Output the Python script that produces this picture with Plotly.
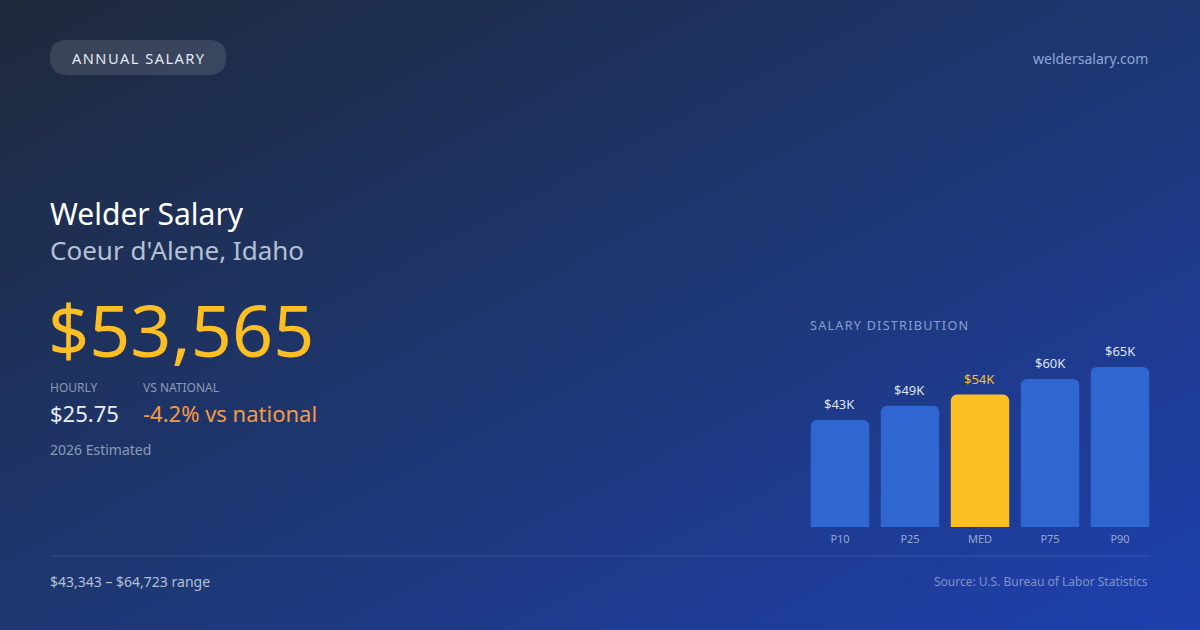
import plotly.graph_objects as go

# salary percentiles
percentiles = ["P10", "P25", "MED", "P75", "P90"]
salaries = [43343, 49100, 53565, 59900, 64723]
bar_labels = ["$43K", "$49K", "$54K", "$60K", "$65K"]
highlight = "MED"

occupation = "Welder Salary"
location = "Coeur d'Alene, Idaho"
median_salary = "$53,565"
hourly_wage = "$25.75"
vs_national = "-4.2% vs national"
year_note = "2026 Estimated"
range_note = "$43,343 \u2013 $64,723 range"
source_note = "Source: U.S. Bureau of Labor Statistics"
site = "weldersalary.com"

W, H = 1200, 630
FONT = "Noto Sans"
BLUE_BAR = "#3066d0"
GOLD = "#fbbf24"


def spaced(s):
    # rough letter-spacing
    return "\u200a".join(s)


def px(x, y):
    return x / W, 1 - y / H


def round_rect(x0, y0, x1, y1, r):
    # pixel box -> paper path with rounded corners
    rx, ry = r / W, r / H
    X0, X1 = x0 / W, x1 / W
    Y0, Y1 = 1 - y1 / H, 1 - y0 / H
    return (f"M {X0 + rx},{Y0} L {X1 - rx},{Y0} Q {X1},{Y0} {X1},{Y0 + ry} "
            f"L {X1},{Y1 - ry} Q {X1},{Y1} {X1 - rx},{Y1} "
            f"L {X0 + rx},{Y1} Q {X0},{Y1} {X0},{Y1 - ry} "
            f"L {X0},{Y0 + ry} Q {X0},{Y0} {X0 + rx},{Y0} Z")


fig = go.Figure()

# background gradient (diagonal)
fig.add_trace(go.Heatmap(
    z=[[0, 0.5], [0.5, 1]], x=[0, 1], y=[1, 0],
    colorscale=[[0, "#1e293b"], [0.5, "#1e3772"], [1, "#1e40af"]],
    zsmooth="best", showscale=False, hoverinfo="skip",
    xaxis="x", yaxis="y",
))

colors = [GOLD if p == highlight else BLUE_BAR for p in percentiles]
fig.add_trace(go.Bar(
    x=percentiles, y=salaries, marker=dict(color=colors, line=dict(width=0)),
    xaxis="x2", yaxis="y2", hoverinfo="skip",
))

fig.update_layout(
    width=W, height=H,
    margin=dict(l=0, r=0, t=0, b=0),
    paper_bgcolor="#1e293b", plot_bgcolor="rgba(0,0,0,0)",
    showlegend=False,
    font=dict(family=FONT),
    barcornerradius=6,
    bargap=0.165,
    xaxis=dict(range=[0, 1], domain=[0, 1], visible=False, fixedrange=True),
    yaxis=dict(range=[0, 1], domain=[0, 1], visible=False, fixedrange=True),
    xaxis2=dict(domain=[805 / W, 1155 / W], anchor="y2", showgrid=False, zeroline=False,
                showline=False, ticks="", tickfont=dict(size=11, color="#94a8cf", family=FONT),
                ticklabelstandoff=4),
    yaxis2=dict(domain=[(H - 527) / H, (H - 527 + 173) / H], range=[0, 70000], anchor="x2",
                visible=False),
)

# value labels on bars
for p, v, lab in zip(percentiles, salaries, bar_labels):
    fig.add_annotation(
        x=p, y=v, xref="x2", yref="y2", text=lab, showarrow=False,
        yanchor="bottom", yshift=5,
        font=dict(size=13, color=GOLD if p == highlight else "#dde3ef", family=FONT),
    )

# badge
fig.add_shape(type="path", xref="paper", yref="paper",
              path=round_rect(50, 40, 226, 75, 17),
              fillcolor="rgba(255,255,255,0.12)", line=dict(width=0), layer="above")


def text(x, y, s, size, color, anchor="left"):
    ax, ay = px(x, y)
    fig.add_annotation(x=ax, y=ay, xref="paper", yref="paper", text=s, showarrow=False,
                       xanchor=anchor, yanchor="middle",
                       font=dict(size=size, color=color, family=FONT))


text(138, 58, spaced("ANNUAL SALARY"), 14.6, "#e2e8f0", anchor="center")
text(1150, 58, site, 14, "#8ea6d6", anchor="right")

text(48, 213, occupation, 30, "#ffffff")
text(48, 250, location, 26, "#b4c0d3")
text(46, 329, median_salary, 72, GOLD)

text(48, 387, "HOURLY", 12, "#8d9ab3")
text(141, 387, "VS NATIONAL", 12, "#8d9ab3")
text(48, 413, hourly_wage, 22, "#e8edf5")
text(141, 413, vs_national, 22, "#f59a45")
text(48, 449, year_note, 14, "#8d9ab3")

text(808, 325, spaced("SALARY DISTRIBUTION"), 12.6, "#8aa0c8")

# footer divider
fig.add_shape(type="line", xref="paper", yref="paper",
              x0=50 / W, x1=1150 / W, y0=1 - 556 / H, y1=1 - 556 / H,
              line=dict(color="rgba(255,255,255,0.12)", width=1), layer="above")

text(48, 581, range_note, 14, "#b4c0d3")
text(1150, 581, source_note, 12, "#7f93c4", anchor="right")

fig.write_html("out.html", config={"displayModeBar": False},
               post_script="document.body.style.margin='0';")
